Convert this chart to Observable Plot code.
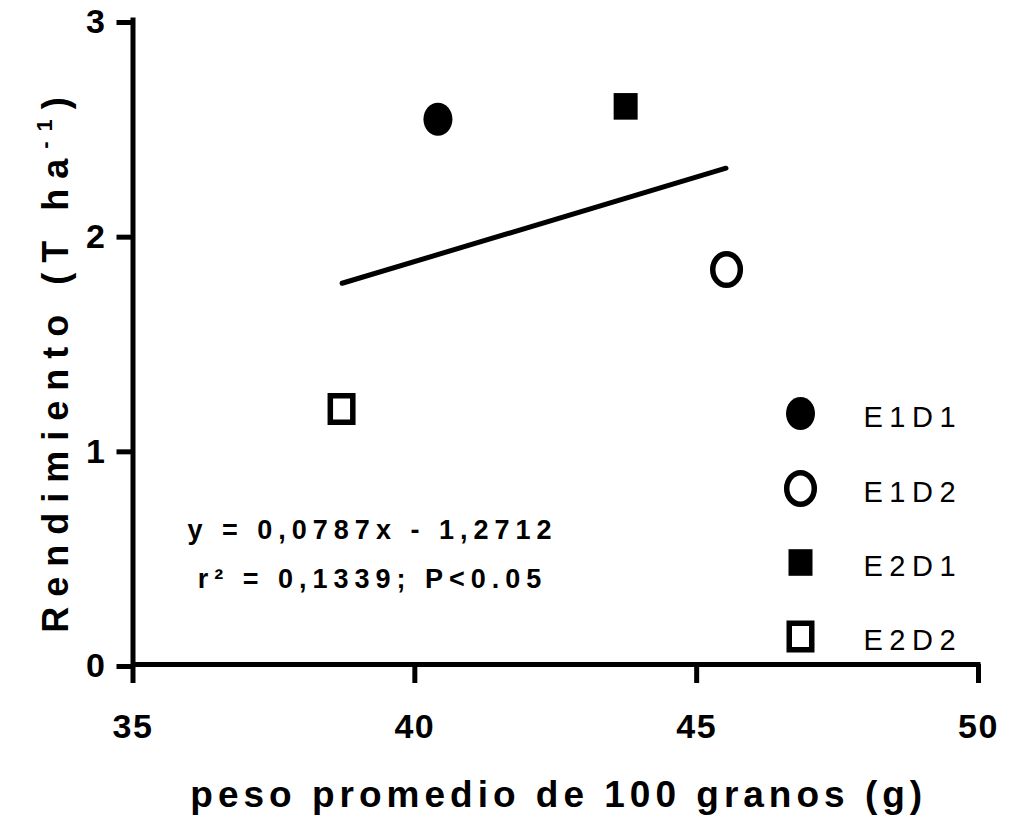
<!DOCTYPE html>
<html>
<head>
<meta charset="utf-8">
<script src="https://cdn.jsdelivr.net/npm/d3@7"></script>
<script src="https://cdn.jsdelivr.net/npm/@observablehq/plot@0.6"></script>
<style>
  html, body { margin: 0; padding: 0; background: #fff; }
  #chart svg { display: block; }
  g[aria-label="x-axis tick label"] text { letter-spacing: 1.5px; }
  .lbl-x { letter-spacing: 5px; }
</style>
</head>
<body>
<div id="chart"></div>
<script>
// ---- data ----
const groups = ["E1D1", "E1D2", "E2D1", "E2D2"];
const peso = [40.41, 45.53, 43.74, 38.70];       // peso promedio de 100 granos (g)
const rendimiento = [2.54, 1.84, 2.60, 1.19];    // Rendimiento (T ha-1)
const fitX = [38.71, 45.52];                      // regression line ends
const fitY = [1.776, 2.312];
const xTicks = [35, 40, 45, 50];
const yTicks = [0, 1, 2, 3];
const eqLines = ["y = 0,0787x - 1,2712", "r² = 0,1339; P<0.05"];
const xTitle = "peso promedio de 100 granos (g)";

// ---- layout ----
const W = 1025, H = 817;
const ML = 132.5, MR = 47, MT = 20, MB = 153;
const FONT = "'Liberation Sans', Arial, sans-serif";
const xDom = [35, 50], yDom = [0, 3];
const px2x = p => xDom[0] + (p - ML) * (xDom[1] - xDom[0]) / (W - ML - MR);
const py2y = p => yDom[0] + (H - MB - p) * (yDom[1] - yDom[0]) / (H - MT - MB);

const points = groups.map((g, i) => ({g, x: peso[i], y: rendimiento[i]}));
const fit = fitX.map((x, i) => ({x, y: fitY[i]}));

// custom symbols
function ellipseSym(rx, ry) {
  const k = 0.5522847498;
  return {draw(c) {
    c.moveTo(rx, 0);
    c.bezierCurveTo(rx, ry * k, rx * k, ry, 0, ry);
    c.bezierCurveTo(-rx * k, ry, -rx, ry * k, -rx, 0);
    c.bezierCurveTo(-rx, -ry * k, -rx * k, -ry, 0, -ry);
    c.bezierCurveTo(rx * k, -ry, rx, -ry * k, rx, 0);
    c.closePath();
  }};
}
function rectSym(w, h) {
  return {draw(c) {
    c.moveTo(-w / 2, -h / 2); c.lineTo(w / 2, -h / 2);
    c.lineTo(w / 2, h / 2); c.lineTo(-w / 2, h / 2); c.closePath();
  }};
}
const styles = {
  E1D1: {symbol: ellipseSym(14.5, 16.5), fill: "black", stroke: "none"},
  E1D2: {symbol: ellipseSym(13.8, 15.8), fill: "white", stroke: "black", strokeWidth: 5.5},
  E2D1: {symbol: rectSym(24, 26.6), fill: "black", stroke: "none"},
  E2D2: {symbol: rectSym(22.5, 26.5), fill: "white", stroke: "black", strokeWidth: 5.5}
};

// legend layout (pixels -> data)
const legendSymX = 800, legendTextX = 863;
const legendRowsY = [413, 488, 562, 636];
const legend = groups.map((g, i) => ({g, x: px2x(legendSymX), y: py2y(legendRowsY[i]), tx: px2x(legendTextX), ty: py2y(legendRowsY[i] + 4)}));

const marks = [];
// axes lines
marks.push(Plot.ruleY([0], {strokeWidth: 5, insetRight: -2.5}));
marks.push(Plot.ruleX([35], {strokeWidth: 5, insetTop: -2.5}));
marks.push(Plot.axisX({ticks: xTicks, tickSize: 19, tickPadding: 30, strokeWidth: 5, fontSize: 34, fontWeight: "bold", label: null, tickFormat: d => String(d)}));
marks.push(Plot.axisY({ticks: yTicks, tickSize: 16, tickPadding: 12, strokeWidth: 5, fontSize: 34, fontWeight: "bold", label: null, dy: 2, tickFormat: d => String(d)}));
// regression line
marks.push(Plot.line(fit, {x: "x", y: "y", stroke: "black", strokeWidth: 5}));
// points
for (const g of groups) {
  const s = styles[g];
  marks.push(Plot.dot(points.filter(d => d.g === g), {x: "x", y: "y", r: 15, ...s}));
  marks.push(Plot.dot(legend.filter(d => d.g === g), {x: "x", y: "y", r: 15, ...s}));
}
// legend labels
marks.push(Plot.text(legend, {x: "tx", y: "ty", text: "g", textAnchor: "start", lineAnchor: "middle", fontSize: 29, fill: "black", className: "lbl-leg"}));
// equation
marks.push(Plot.text(eqLines.map((t, i) => ({t, x: px2x(372), y: py2y([530, 579][i])})), {x: "x", y: "y", text: "t", textAnchor: "middle", lineAnchor: "middle", fontSize: 27, fontWeight: "bold", fill: "black", className: "lbl-eq"}));
// x title
marks.push(Plot.text([xTitle], {frameAnchor: "bottom", dy: 131, dx: 3, text: d => d, textAnchor: "middle", lineAnchor: "middle", fontSize: 37, fontWeight: "bold", fill: "black", className: "lbl-x"}));

const plot = Plot.plot({
  width: W, height: H,
  marginLeft: ML, marginRight: MR, marginTop: MT, marginBottom: MB,
  x: {domain: xDom, type: "linear"},
  y: {domain: yDom, type: "linear"},
  style: {fontFamily: FONT, color: "black", background: "white"},
  marks
});
document.getElementById("chart").appendChild(plot);

// y title with superscript
const svg = d3.select(plot);
svg.selectAll(".lbl-leg text").style("letter-spacing", "6.5px");
svg.selectAll(".lbl-eq text").style("letter-spacing", "6px");
const yt = svg.append("text")
  .attr("transform", "translate(68,360) rotate(-90)")
  .attr("text-anchor", "middle")
  .attr("font-family", FONT)
  .attr("font-size", 36)
  .attr("font-weight", "bold")
  .attr("fill", "black")
  .style("letter-spacing", "10px");
yt.append("tspan").text("Rendimiento (T ha");
yt.append("tspan").attr("font-size", 22).attr("dy", -16).text("-1");
yt.append("tspan").attr("dy", 16).text(")");
</script>
</body>
</html>
